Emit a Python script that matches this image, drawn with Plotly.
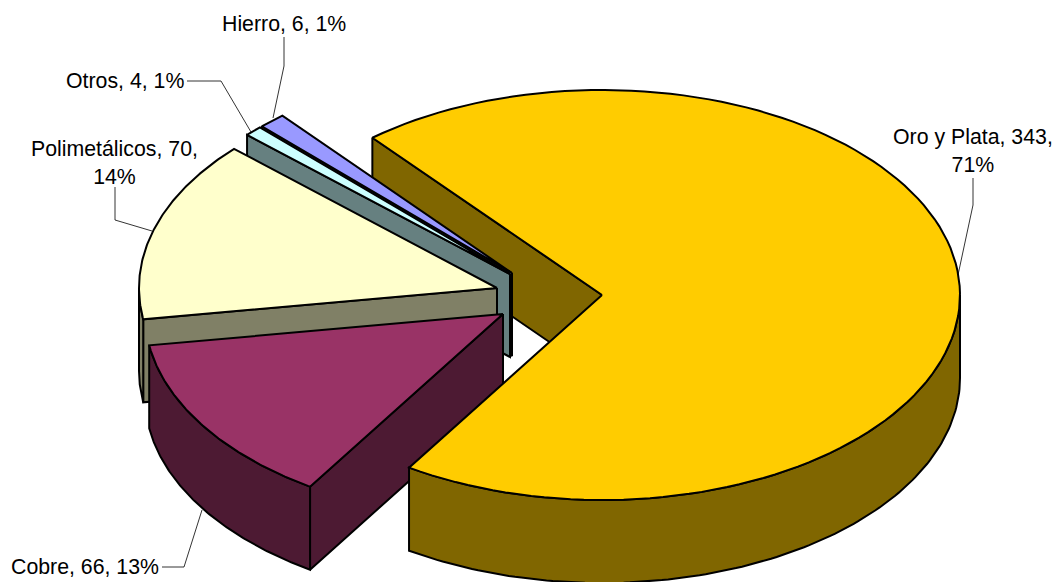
import numpy as np
import plotly.graph_objects as go

# ---- data ----
names = ["Oro y Plata", "Cobre", "Polimetálicos", "Otros", "Hierro"]
values = [343, 66, 70, 4, 6]
percents = [71, 13, 14, 1, 1]
top_colors = ["#FFCC00", "#993366", "#FFFFCC", "#CCFFFF", "#9999FF"]
side_colors = ["#806600", "#4D1A33", "#808066", "#668080", "#4D4D80"]

# ---- projection of the tilted, exploded pie (canvas pixels) ----
W, H = 1057, 582
RX, RY, DEPTH = 358, 205, 83
FIRST_ANGLE = 320.1
apex = {"Oro y Plata": (602, 295), "Cobre": (503, 314), "Polimetálicos": (497, 288),
        "Otros": (510, 274), "Hierro": (512, 273)}

total = sum(values)
sweeps = [v / total * 360 for v in values]
starts = FIRST_ANGLE + np.concatenate([[0], np.cumsum(sweeps)[:-1]])


def arc(name, a0, a1, drop=0, n=120):
    t = np.radians(np.linspace(a0, a1, n))
    cx, cy = apex[name]
    return cx + RX * np.sin(t), cy - RY * np.cos(t) + drop


def top_face(name, a0, a1):
    x, y = arc(name, a0, a1)
    cx, cy = apex[name]
    return np.r_[cx, x, cx], np.r_[cy, y, cy]


def radial_face(name, a):
    cx, cy = apex[name]
    x, y = arc(name, a, a, n=1)
    return (np.array([cx, x[0], x[0], cx, cx]),
            np.array([cy, y[0], y[0] + DEPTH, cy + DEPTH, cy]))


def outer_wall(name, a0, a1):
    # visible front part of the rim: 90..270 degrees clockwise from the top
    a0m, a1m = a0 % 360, a0 % 360 + (a1 - a0)
    lo, hi = max(a0m, 90), min(a1m, 270)
    if a1m > 360:
        lo, hi = max(a0m - 360, 90), min(a1m - 360, 270)
    if hi <= lo:
        return None
    xt, yt = arc(name, lo, hi)
    xb, yb = arc(name, hi, lo, DEPTH)
    return np.r_[xt, xb, xt[0]], np.r_[yt, yb, yt[0]]


fig = go.Figure()


def poly(xy, color):
    fig.add_trace(go.Scatter(x=xy[0], y=xy[1], mode="lines", fill="toself", fillcolor=color,
                             line=dict(color="black", width=2), hoverinfo="skip",
                             showlegend=False))


geom = {n: (s, s + w, top_colors[i], side_colors[i])
        for i, (n, s, w) in enumerate(zip(names, starts, sweeps))}

# back cut face of the big slice goes behind everything else
a0, a1, ct, cs = geom["Oro y Plata"]
poly(radial_face("Oro y Plata", a0), cs)

for n in ["Hierro", "Otros", "Polimetálicos", "Cobre"]:
    a0, a1, ct, cs = geom[n]
    poly(radial_face(n, a0), cs)
    wall = outer_wall(n, a0, a1)
    if wall is not None:
        poly(wall, cs)
    poly(top_face(n, a0, a1), ct)

a0, a1, ct, cs = geom["Oro y Plata"]
poly(outer_wall("Oro y Plata", a0, a1), cs)
poly(top_face("Oro y Plata", a0, a1), ct)

# ---- labels and leader lines ----
labels = {n: f"{n}, {v}, {p}%" for n, v, p in zip(names, values, percents)}
annots = [
    ("Oro y Plata", labels["Oro y Plata"].replace(", 71%", ",<br>71%"), 972.5, 150.5, "center"),
    ("Cobre", labels["Cobre"], 160, 567, "right"),
    ("Polimetálicos", labels["Polimetálicos"].replace(", 14%", ",<br>14%"), 114.5, 163, "center"),
    ("Otros", labels["Otros"], 185, 81, "right"),
    ("Hierro", labels["Hierro"], 284, 24, "center"),
]
for _, text, x, y, anchor in annots:
    fig.add_annotation(x=x, y=y, text=text, showarrow=False, xanchor=anchor, yanchor="middle",
                       align="center", borderpad=0,
                       font=dict(family="Liberation Sans, Arial", size=21.3, color="black"))

leaders = [
    "M 973 178 L 973 205 L 958 275",
    "M 162 567 L 184 567 L 202 510",
    "M 115 187 L 115 220 L 152 231",
    "M 187 81 L 221 81 L 251 132",
    "M 284 37 L 284 66 L 273 118",
]
shapes = [dict(type="path", path=p, xref="x", yref="y", line=dict(color="black", width=0.8),
               layer="above") for p in leaders]

fig.update_layout(
    width=W, height=H, margin=dict(l=0, r=0, t=0, b=0),
    paper_bgcolor="white", plot_bgcolor="white", shapes=shapes, hovermode=False,
    xaxis=dict(range=[0, W], visible=False, fixedrange=True),
    yaxis=dict(range=[H, 0], visible=False, fixedrange=True),
)
fig.write_html("out.html", config={"displayModeBar": False},
               post_script="document.body.style.margin='0';document.body.style.overflow='hidden';")
